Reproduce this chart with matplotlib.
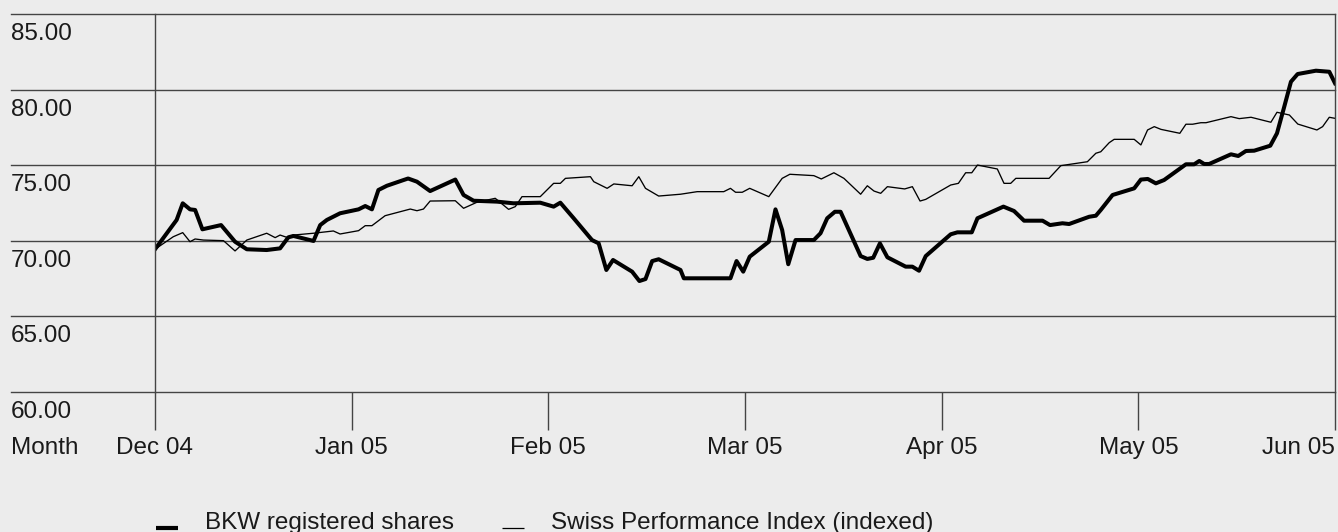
import matplotlib
matplotlib.use("Agg")
import matplotlib.pyplot as plt
from matplotlib.lines import Line2D
import matplotlib.transforms as mtransforms

plt.rcParams['font.family'] = ['Liberation Sans', 'DejaVu Sans']

# ---- data (x = position in months since Dec 04, y = price) ----
month_labels = ["Dec 04", "Jan 05", "Feb 05", "Mar 05", "Apr 05", "May 05", "Jun 05"]
y_ticks = [60, 65, 70, 75, 80, 85]
series_names = ["BKW registered shares", "Swiss Performance Index (indexed)"]

bkw_month = [0.000, 0.110, 0.141, 0.178, 0.204, 0.241, 0.336, 0.407, 0.467, 0.568,
             0.636, 0.678, 0.704, 0.806, 0.840, 0.874, 0.941, 1.035, 1.069, 1.103,
             1.136, 1.179, 1.264, 1.287, 1.332, 1.399, 1.527, 1.569, 1.620, 1.739,
             1.823, 1.959, 2.027, 2.061, 2.129, 2.222, 2.256, 2.295, 2.329, 2.426,
             2.463, 2.494, 2.528, 2.561, 2.672, 2.689, 2.926, 2.957, 2.991, 3.024,
             3.121, 3.155, 3.189, 3.220, 3.257, 3.350, 3.384, 3.418, 3.457, 3.486,
             3.588, 3.622, 3.652, 3.686, 3.724, 3.817, 3.851, 3.885, 3.919, 4.046,
             4.080, 4.153, 4.182, 4.314, 4.368, 4.419, 4.513, 4.551, 4.614, 4.648,
             4.750, 4.784, 4.809, 4.869, 4.979, 5.013, 5.048, 5.089, 5.131, 5.242,
             5.284, 5.310, 5.335, 5.360, 5.471, 5.508, 5.547, 5.589, 5.671, 5.705,
             5.742, 5.776, 5.810, 5.903, 5.971, 6.000]
bkw_value = [69.44, 71.38, 72.48, 72.08, 72.04, 70.76, 71.04, 69.94, 69.44, 69.39,
             69.50, 70.23, 70.32, 69.99, 71.04, 71.38, 71.82, 72.08, 72.30, 72.08,
             73.36, 73.64, 74.02, 74.12, 73.91, 73.29, 74.05, 73.03, 72.65, 72.59,
             72.48, 72.52, 72.26, 72.52, 71.49, 70.05, 69.83, 68.07, 68.73, 67.96,
             67.34, 67.47, 68.66, 68.78, 68.07, 67.52, 67.52, 68.66, 67.96, 68.95,
             69.94, 72.08, 70.71, 68.45, 70.05, 70.05, 70.50, 71.49, 71.92, 71.92,
             68.99, 68.80, 68.88, 69.83, 68.91, 68.29, 68.29, 68.02, 68.99, 70.43,
             70.56, 70.56, 71.49, 72.26, 71.97, 71.33, 71.33, 71.04, 71.16, 71.11,
             71.59, 71.66, 72.04, 73.03, 73.47, 74.05, 74.09, 73.80, 74.02, 75.06,
             75.06, 75.28, 75.08, 75.08, 75.72, 75.61, 75.94, 75.96, 76.29, 77.11,
             78.87, 80.52, 81.03, 81.25, 81.18, 80.42]

spi_month = [0.000, 0.093, 0.141, 0.178, 0.204, 0.246, 0.348, 0.407, 0.467, 0.568,
             0.611, 0.636, 0.670, 0.704, 0.806, 0.907, 0.941, 1.035, 1.069, 1.103,
             1.170, 1.298, 1.332, 1.365, 1.399, 1.527, 1.569, 1.637, 1.730, 1.798,
             1.832, 1.866, 1.959, 2.027, 2.061, 2.087, 2.214, 2.231, 2.299, 2.333,
             2.426, 2.460, 2.494, 2.561, 2.672, 2.757, 2.892, 2.926, 2.952, 2.986,
             3.024, 3.121, 3.189, 3.228, 3.350, 3.388, 3.452, 3.503, 3.588, 3.622,
             3.656, 3.690, 3.724, 3.812, 3.851, 3.890, 3.919, 4.046, 4.085, 4.122,
             4.153, 4.182, 4.283, 4.309, 4.317, 4.351, 4.377, 4.546, 4.606, 4.741,
             4.784, 4.809, 4.852, 4.877, 4.979, 5.013, 5.047, 5.081, 5.115, 5.211,
             5.242, 5.276, 5.318, 5.344, 5.471, 5.513, 5.573, 5.674, 5.705, 5.768,
             5.811, 5.908, 5.937, 5.971, 6.000]
spi_value = [69.44, 70.27, 70.54, 69.94, 70.12, 70.05, 70.01, 69.33, 70.05, 70.50,
             70.21, 70.38, 70.23, 70.38, 70.50, 70.65, 70.45, 70.67, 71.00, 71.00,
             71.66, 72.10, 71.99, 72.10, 72.63, 72.65, 72.15, 72.55, 72.81, 72.08,
             72.26, 72.92, 72.92, 73.80, 73.80, 74.13, 74.24, 73.91, 73.47, 73.76,
             73.64, 74.24, 73.47, 72.96, 73.08, 73.25, 73.25, 73.47, 73.21, 73.21,
             73.47, 72.92, 74.13, 74.40, 74.31, 74.09, 74.50, 74.13, 73.08, 73.64,
             73.29, 73.14, 73.58, 73.43, 73.58, 72.63, 72.74, 73.69, 73.80, 74.50,
             74.50, 75.01, 74.75, 74.02, 73.80, 73.80, 74.13, 74.13, 74.97, 75.23,
             75.79, 75.89, 76.49, 76.71, 76.71, 76.34, 77.33, 77.55, 77.37, 77.11,
             77.71, 77.71, 77.81, 77.81, 78.21, 78.08, 78.17, 77.84, 78.50, 78.32,
             77.72, 77.33, 77.55, 78.17, 78.10]

# ---- layout ----
W, H = 1338, 532
BG = '#ececec'
LC = '#444444'
FS = 17.5

fig = plt.figure(figsize=(W / 100, H / 100), dpi=100, facecolor=BG)
ax = fig.add_axes([155 / W, 1 - 392 / H, 1180 / W, 378 / H])
ax.set_facecolor(BG)
ax.set_xlim(0, 6)
ax.set_ylim(60, 85)

ax.plot(spi_month, spi_value, color='black', lw=0.95, label=series_names[1])
ax.plot(bkw_month, bkw_value, color='black', lw=2.9, label=series_names[0])

for s in ['top', 'bottom']:
    ax.spines[s].set_visible(False)
for s in ['left', 'right']:
    ax.spines[s].set_color(LC)
    ax.spines[s].set_linewidth(1)

ext = -144 / 1180
for v in y_ticks:
    ax.axhline(v, xmin=ext, xmax=1, color=LC, lw=1, clip_on=False, zorder=1)

ax.set_yticks([])
ax.set_xticks(range(len(month_labels)))
ax.set_xticklabels(month_labels)
ax.tick_params(axis='x', direction='out', length=27.4, width=1, color=LC,
               pad=5, labelsize=FS, labelcolor='#1a1a1a')
# last label sits flush against the right edge
ax.get_xticklabels()[-1].set_horizontalalignment('right')

trans = mtransforms.blended_transform_factory(fig.transFigure, ax.transData)
trans = mtransforms.offset_copy(trans, fig=fig, x=0, y=-9, units='dots')
for v in y_ticks:
    ax.text(11 / W, v, f"{v:.2f}", transform=trans, ha='left', va='top',
            fontsize=FS, color='#1a1a1a')

fig.text(11 / W, 1 - 437 / H, "Month", ha='left', va='top', fontsize=FS, color='#1a1a1a')

# legend
fig.add_artist(Line2D([156 / W, 178 / W], [1 - 527.5 / H] * 2, transform=fig.transFigure,
                      color='black', lw=3, solid_capstyle='butt'))
fig.text(205 / W, 1 - 529 / H, series_names[0], ha='left', va='baseline',
         fontsize=FS, color='#1a1a1a')
fig.add_artist(Line2D([502 / W, 524 / W], [1 - 528 / H] * 2, transform=fig.transFigure,
                      color='black', lw=0.9, solid_capstyle='butt'))
fig.text(551 / W, 1 - 529 / H, series_names[1], ha='left', va='baseline',
         fontsize=FS, color='#1a1a1a')

fig.savefig("out.png", dpi=100, facecolor=BG)
